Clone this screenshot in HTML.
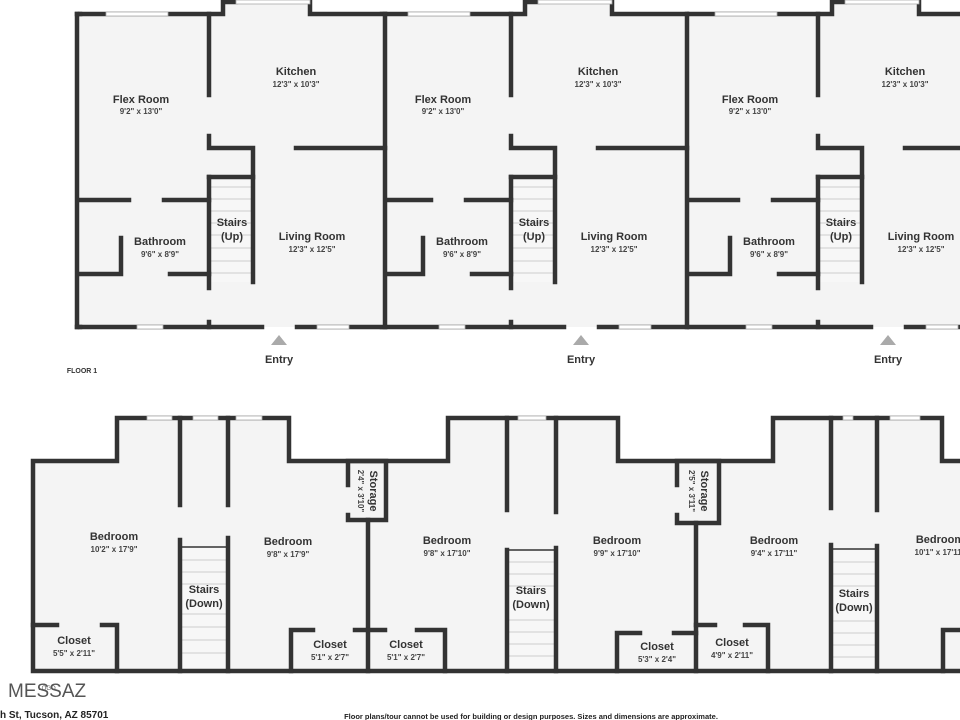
<!DOCTYPE html>
<html><head><meta charset="utf-8"><style>
html,body{margin:0;padding:0;background:#fff;width:960px;height:720px;overflow:hidden}
svg{display:block}
text{font-family:"Liberation Sans",sans-serif;fill:#333;text-anchor:middle}
.n{font-size:11px;font-weight:bold}
.d{font-size:8px;font-weight:bold;fill:#444}
.w{stroke:#333;stroke-width:4.5;fill:none;stroke-linecap:square}
.win{fill:#fff;stroke:#aaa;stroke-width:0.8}
.st{stroke:#ccc;stroke-width:1}
</style></head><body>
<svg width="960" height="720" viewBox="0 0 960 720" xmlns="http://www.w3.org/2000/svg">
<defs>
<g id="unit">
  <polygon points="79,14 223,14 223,2 310,2 310,14 385,14 385,327 79,327" fill="#f4f4f4"/>
  <rect x="211" y="179" width="40" height="103" fill="#f7f7f7"/>
  <g class="st">
    <line x1="211" y1="187" x2="251" y2="187"/><line x1="211" y1="199" x2="251" y2="199"/>
    <line x1="211" y1="211" x2="251" y2="211"/><line x1="211" y1="223" x2="251" y2="223"/>
    <line x1="211" y1="235" x2="251" y2="235"/><line x1="211" y1="248" x2="251" y2="248"/>
    <line x1="211" y1="261" x2="251" y2="261"/><line x1="211" y1="273" x2="251" y2="273"/>
  </g>
  <polyline class="w" points="80,14 223,14 223,2 236,2"/>
  <polyline class="w" points="310,2 310,14 385,14"/>
  <line class="w" x1="209" y1="14" x2="209" y2="95"/>
  <polyline class="w" points="209,136 209,148 253,148 253,282"/>
  <line class="w" x1="209" y1="177" x2="253" y2="177"/>
  <line class="w" x1="209" y1="177" x2="209" y2="288"/>
  <line class="w" x1="209" y1="322" x2="209" y2="327"/>
  <line class="w" x1="296" y1="148" x2="385" y2="148"/>
  <line class="w" x1="80" y1="200" x2="129" y2="200"/>
  <line class="w" x1="164" y1="200" x2="209" y2="200"/>
  <polyline class="w" points="121,238 121,274 80,274"/>
  <line class="w" x1="170" y1="274" x2="209" y2="274"/>
  <line class="w" x1="80" y1="327" x2="262" y2="327"/>
  <line class="w" x1="297" y1="327" x2="385" y2="327"/>
  <line class="w" x1="385" y1="14" x2="385" y2="327"/>
  <rect class="win" x="106" y="12" width="62" height="4"/>
  <rect class="win" x="236" y="0" width="74" height="4"/>
  <rect class="win" x="137" y="325" width="26" height="4"/>
  <rect class="win" x="317" y="325" width="32" height="4"/>
  <polygon points="271,345 287,345 279,335" fill="#aaa"/>
  <text class="n" x="279" y="363">Entry</text>
  <text class="n" x="296" y="75">Kitchen</text><text class="d" x="296" y="87">12'3" x 10'3"</text>
  <text class="n" x="141" y="103">Flex Room</text><text class="d" x="141" y="114">9'2" x 13'0"</text>
  <text class="n" x="160" y="245">Bathroom</text><text class="d" x="160" y="257">9'6" x 8'9"</text>
  <text class="n" x="232" y="226">Stairs</text><text class="n" x="232" y="240">(Up)</text>
  <text class="n" x="312" y="240">Living Room</text><text class="d" x="312" y="252">12'3" x 12'5"</text>
</g>
</defs>
<use href="#unit" x="609"/>
<use href="#unit" x="302"/>
<use href="#unit" x="0"/>
<line class="w" x1="77" y1="14" x2="77" y2="327"/>
<line class="w" x1="77" y1="14" x2="80" y2="14"/>
<line class="w" x1="77" y1="327" x2="80" y2="327"/>
<text x="82" y="373" style="font-size:7px;font-weight:bold;fill:#333">FLOOR 1</text>

<!-- Floor 2 -->
<polygon points="33,461 117,461 117,418 289,418 289,461 448,461 448,418 618,418 618,461 773,461 773,418 942,418 942,461 960,461 960,671 33,671" fill="#f4f4f4"/>
<rect x="182" y="548" width="44" height="121" fill="#f7f7f7"/>
<rect x="509" y="550" width="45" height="119" fill="#f7f7f7"/>
<rect x="833" y="550" width="42" height="119" fill="#f7f7f7"/>
<g class="st">
  <line x1="182" y1="560" x2="226" y2="560"/><line x1="182" y1="572" x2="226" y2="572"/><line x1="182" y1="584" x2="226" y2="584"/>
  <line x1="182" y1="614" x2="226" y2="614"/><line x1="182" y1="627" x2="226" y2="627"/><line x1="182" y1="640" x2="226" y2="640"/><line x1="182" y1="653" x2="226" y2="653"/>
  <line x1="509" y1="562" x2="554" y2="562"/><line x1="509" y1="574" x2="554" y2="574"/><line x1="509" y1="586" x2="554" y2="586"/>
  <line x1="509" y1="620" x2="554" y2="620"/><line x1="509" y1="632" x2="554" y2="632"/><line x1="509" y1="644" x2="554" y2="644"/><line x1="509" y1="656" x2="554" y2="656"/>
  <line x1="833" y1="562" x2="875" y2="562"/><line x1="833" y1="574" x2="875" y2="574"/><line x1="833" y1="586" x2="875" y2="586"/>
  <line x1="833" y1="621" x2="875" y2="621"/><line x1="833" y1="633" x2="875" y2="633"/><line x1="833" y1="645" x2="875" y2="645"/><line x1="833" y1="657" x2="875" y2="657"/>
</g>
<polyline class="w" points="960,461 942,461 942,418 773,418 773,461 618,461 618,418 448,418 448,461 289,461 289,418 117,418 117,461 33,461 33,671 960,671"/>
<line class="w" x1="180" y1="418" x2="180" y2="505"/><line class="w" x1="180" y1="540" x2="180" y2="671"/>
<line class="w" x1="228" y1="418" x2="228" y2="505"/><line class="w" x1="228" y1="538" x2="228" y2="671"/>
<line x1="182" y1="547" x2="226" y2="547" stroke="#333" stroke-width="1.5"/>
<polyline class="w" points="348,485 348,461 386,461 386,520 348,520 348,515"/>
<line class="w" x1="368" y1="520" x2="368" y2="671"/>
<polyline class="w" points="313,630 291,630 291,671"/>
<line class="w" x1="355" y1="630" x2="385" y2="630"/>
<polyline class="w" points="417,630 445,630 445,671"/>
<polyline class="w" points="57,625 33,625"/>
<polyline class="w" points="102,625 117,625 117,671"/>
<line class="w" x1="507" y1="418" x2="507" y2="510"/><line class="w" x1="507" y1="550" x2="507" y2="671"/>
<line class="w" x1="556" y1="418" x2="556" y2="512"/><line class="w" x1="556" y1="548" x2="556" y2="671"/>
<line x1="509" y1="550" x2="554" y2="550" stroke="#333" stroke-width="1.5"/>
<polyline class="w" points="677,485 677,461 719,461 719,523 677,523 677,515"/>
<line class="w" x1="696" y1="523" x2="696" y2="671"/>
<polyline class="w" points="640,633 617,633 617,671"/>
<line class="w" x1="674" y1="633" x2="696" y2="633"/>
<line class="w" x1="696" y1="625" x2="715" y2="625"/>
<polyline class="w" points="745,625 768,625 768,671"/>
<line class="w" x1="831" y1="418" x2="831" y2="508"/><line class="w" x1="831" y1="545" x2="831" y2="671"/>
<line class="w" x1="877" y1="418" x2="877" y2="510"/><line class="w" x1="877" y1="546" x2="877" y2="671"/>
<line x1="833" y1="549" x2="875" y2="549" stroke="#333" stroke-width="1.5"/>
<polyline class="w" points="960,630 943,630 943,671"/>
<rect class="win" x="147" y="416" width="25" height="4"/>
<rect class="win" x="193" y="416" width="25" height="4"/>
<rect class="win" x="236" y="416" width="26" height="4"/>
<rect class="win" x="518" y="416" width="28" height="4"/>
<rect class="win" x="843" y="416" width="10" height="4"/>
<rect class="win" x="890" y="416" width="30" height="4"/>
<text class="n" x="114" y="540">Bedroom</text><text class="d" x="114" y="552">10'2" x 17'9"</text>
<text class="n" x="204" y="593">Stairs</text><text class="n" x="204" y="607">(Down)</text>
<text class="n" x="288" y="545">Bedroom</text><text class="d" x="288" y="557">9'8" x 17'9"</text>
<text class="n" x="447" y="544">Bedroom</text><text class="d" x="447" y="556">9'8" x 17'10"</text>
<text class="n" x="74" y="644">Closet</text><text class="d" x="74" y="656">5'5" x 2'11"</text>
<text class="n" x="330" y="648">Closet</text><text class="d" x="330" y="660">5'1" x 2'7"</text>
<text class="n" x="406" y="648">Closet</text><text class="d" x="406" y="660">5'1" x 2'7"</text>
<text class="n" transform="translate(370,491) rotate(90)">Storage</text>
<text class="d" transform="translate(358,491) rotate(90)">2'4" x 3'10"</text>
<text class="n" x="531" y="594">Stairs</text><text class="n" x="531" y="608">(Down)</text>
<text class="n" x="617" y="544">Bedroom</text><text class="d" x="617" y="556">9'9" x 17'10"</text>
<text class="n" x="657" y="650">Closet</text><text class="d" x="657" y="662">5'3" x 2'4"</text>
<text class="n" transform="translate(701,491) rotate(90)">Storage</text>
<text class="d" transform="translate(689,491) rotate(90)">2'5" x 3'11"</text>
<text class="n" x="774" y="544">Bedroom</text><text class="d" x="774" y="556">9'4" x 17'11"</text>
<text class="n" x="732" y="646">Closet</text><text class="d" x="732" y="658">4'9" x 2'11"</text>
<text class="n" x="854" y="597">Stairs</text><text class="n" x="854" y="611">(Down)</text>
<text class="n" x="940" y="543">Bedroom</text><text class="d" x="940" y="555">10'1" x 17'11"</text>
<text x="8" y="697" transform="translate(8,697) scale(1,1) translate(-8,-697)" style="font-size:19px;font-weight:normal;fill:#555;text-anchor:start;letter-spacing:0px">MESSAZ</text>
<text x="47" y="690" style="font-size:6px;fill:#555">LOGO</text>
<text x="0" y="718" style="font-size:10px;font-weight:bold;text-anchor:start;fill:#222">h St, Tucson, AZ 85701</text>
<text x="531" y="719" style="font-size:7.5px;font-weight:bold;fill:#222">Floor plans/tour cannot be used for building or design purposes. Sizes and dimensions are approximate.</text>
</svg>
</body></html>
